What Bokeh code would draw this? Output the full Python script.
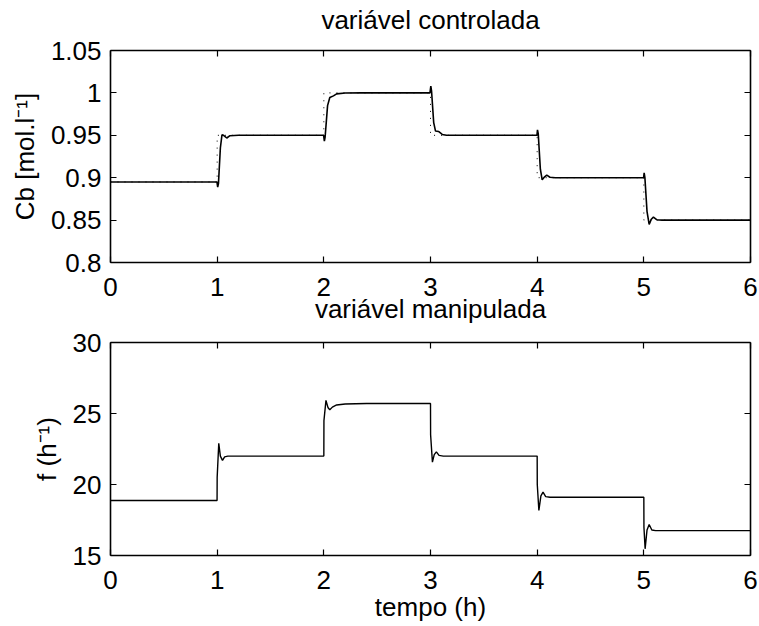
from bokeh.plotting import figure
from bokeh.models import Range1d, LinearAxis, FixedTicker
from bokeh.layouts import column
from bokeh.embed import file_html
from bokeh.resources import INLINE

# ---------------- data ----------------
t_cb = [0.0, 0.998, 1.005, 1.012, 1.03, 1.045, 1.06, 1.09, 1.12, 1.2,
        1.998, 2.005, 2.012, 2.035, 2.056, 2.09, 2.12, 2.2, 2.35,
        2.995, 3.003, 3.01, 3.03, 3.047, 3.075, 3.11, 3.15,
        3.998, 4.003, 4.01, 4.03, 4.047, 4.07, 4.09, 4.12, 4.17,
        4.998, 5.003, 5.01, 5.03, 5.05, 5.07, 5.09, 5.12, 5.17, 6.0]
cb = [0.895, 0.895, 0.889, 0.893, 0.935, 0.9505, 0.950, 0.9468, 0.9495, 0.950,
      0.950, 0.943, 0.948, 0.985, 0.9945, 0.9965, 0.9988, 0.9998, 1.0,
      1.0, 1.008, 1.002, 0.965, 0.955, 0.9545, 0.951, 0.950,
      0.950, 0.9565, 0.952, 0.910, 0.8975, 0.901, 0.903, 0.9005, 0.900,
      0.900, 0.9058, 0.900, 0.860, 0.845, 0.851, 0.8535, 0.8505, 0.850, 0.850]

t_sp = [0, 1, 1, 2, 2, 3, 3, 4, 4, 5, 5, 6]
sp = [0.895, 0.895, 0.95, 0.95, 1.0, 1.0, 0.95, 0.95, 0.90, 0.90, 0.85, 0.85]

t_f = [0.0, 0.999, 1.0, 1.015, 1.03, 1.05, 1.07, 1.1,
       2.0, 2.001, 2.02, 2.04, 2.056, 2.08, 2.12, 2.2, 2.4,
       3.0, 3.001, 3.018, 3.035, 3.055, 3.08, 3.12,
       4.0, 4.001, 4.016, 4.035, 4.055, 4.08, 4.12,
       5.0, 5.001, 5.012, 5.03, 5.05, 5.075, 5.11, 6.0]
f_vals = [18.87, 18.87, 20.5, 22.9, 22.0, 21.7, 21.95, 22.0,
          22.0, 24.5, 25.92, 25.4, 25.26, 25.45, 25.6, 25.67, 25.7,
          25.7, 23.5, 21.57, 22.1, 22.3, 22.05, 22.0,
          22.0, 20.0, 18.17, 19.2, 19.46, 19.15, 19.1,
          19.1, 17.0, 15.47, 16.8, 17.18, 16.8, 16.75, 16.75]

x_ticks = [0, 1, 2, 3, 4, 5, 6]
x_tick_labels = ["0", "1", "2", "3", "4", "5", "6"]
cb_ticks = [0.8, 0.85, 0.9, 0.95, 1.0, 1.05]
cb_tick_labels = ["0.8", "0.85", "0.9", "0.95", "1", "1.05"]
f_ticks = [15, 20, 25, 30]
f_tick_labels = ["15", "20", "25", "30"]

title_top = "variável controlada"
title_bottom = "variável manipulada"
ylabel_top = "Cb [mol.l⁻¹]"
ylabel_bottom = "f (h⁻¹)"
xlabel = "tempo (h)"

FONT = "Liberation Sans"
FS = "26px"


def style_axis(ax, ticks, labels, show_labels=True):
    ax.ticker = FixedTicker(ticks=ticks)
    ax.major_label_overrides = {k: (v if show_labels else "") for k, v in zip(ticks, labels)}
    ax.major_tick_in = 6
    ax.major_tick_out = 0
    ax.minor_tick_in = 0
    ax.minor_tick_out = 0
    ax.axis_line_width = 1.6
    ax.axis_line_color = "black"
    ax.major_tick_line_width = 1.2
    ax.major_tick_line_color = "black"
    ax.major_label_text_font = FONT
    ax.major_label_text_color = "black"
    ax.major_label_text_font_size = FS if show_labels else "0px"
    ax.major_label_standoff = 9 if show_labels else 0
    ax.axis_label_text_font = FONT
    ax.axis_label_text_font_style = "normal"
    ax.axis_label_text_font_size = FS
    ax.axis_label_text_color = "black"


def make_fig(height, yr, yticks, ylabels, title, ylabel, top_border, bottom_border,
             title_standoff, xlab=None):
    p = figure(width=759, height=height, output_backend="svg", toolbar_location=None,
               x_range=Range1d(0, 6), y_range=Range1d(*yr),
               min_border_left=110, min_border_right=9,
               min_border_top=top_border, min_border_bottom=bottom_border)
    p.xgrid.visible = False
    p.ygrid.visible = False
    p.outline_line_color = None
    p.background_fill_color = "white"
    p.border_fill_color = None
    p.title.text = title
    p.title.align = "center"
    p.title.text_font = FONT
    p.title.text_font_size = FS
    p.title.text_font_style = "normal"
    p.title.text_color = "black"
    p.title.standoff = title_standoff
    style_axis(p.xaxis[0], x_ticks, x_tick_labels)
    p.xaxis[0].major_label_standoff = 15
    style_axis(p.yaxis[0], yticks, ylabels)
    p.yaxis[0].axis_label = ylabel
    p.yaxis[0].axis_label_standoff = 8
    if xlab:
        p.xaxis[0].axis_label = xlab
        p.xaxis[0].axis_label_standoff = 0
    top = LinearAxis()
    style_axis(top, x_ticks, x_tick_labels, show_labels=False)
    p.add_layout(top, "above")
    right = LinearAxis()
    style_axis(right, yticks, ylabels, show_labels=False)
    p.add_layout(right, "right")
    return p


# upper panel: frame 50..262 px on the page, lower panel: frame 342..555 px
p1 = make_fig(340, (0.8, 1.05), cb_ticks, cb_tick_labels, title_top, ylabel_top, 80, 48, 32)
p1.margin = (-30, 0, 0, 0)
p1.line(t_sp, sp, line_color="black", line_width=1, line_dash="1 6")
p1.line(t_cb, cb, line_color="black", line_width=1.6)

p2 = make_fig(369, (15, 30), f_ticks, f_tick_labels, title_bottom, ylabel_bottom, 85, 71,
              38, xlab=xlabel)
p2.margin = (-53, 0, 0, 0)
p2.line(t_f, f_vals, line_color="black", line_width=1.4)

layout = column(p1, p2, spacing=0)
open("out.html", "w").write(file_html(layout, INLINE))
